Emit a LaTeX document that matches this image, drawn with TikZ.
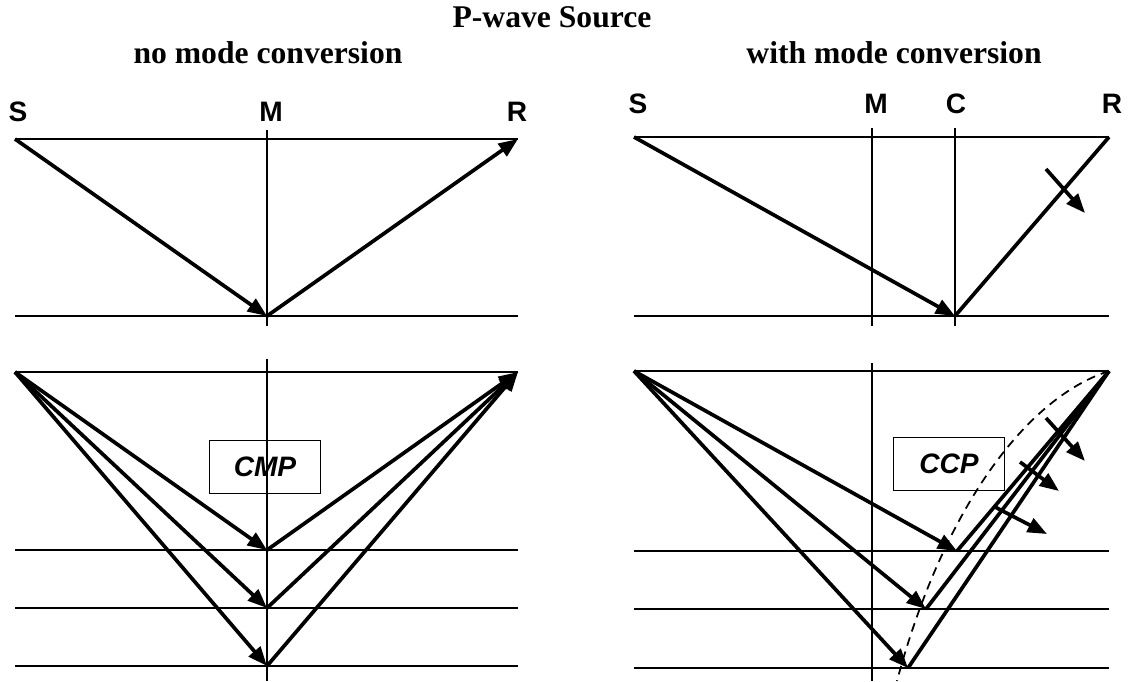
\documentclass[tikz,border=0pt]{standalone}
\usepackage{fontspec}
\setmainfont{Liberation Serif}
\setsansfont{Liberation Sans}
\usetikzlibrary{arrows.meta}
\tikzset{
  thinline/.style={line width=1pt},
  ray/.style={line width=2.1pt},
  wave/.style={ray,-{Triangle[length=11pt,width=8.5pt]}},
  ptlabel/.style={font=\fontsize{16}{18}\selectfont\sffamily\bfseries},
  heading/.style={font=\fontsize{18}{20}\selectfont\bfseries,anchor=base},
  gather/.style={draw,line width=0.9pt,minimum width=2.22cm,minimum height=1.06cm,inner sep=0pt,
    font=\fontsize{16}{18}\selectfont\sffamily\bfseries\itshape}
}
\begin{document}
\begin{tikzpicture}[x=0.02cm,y=-0.02cm]
    \useasboundingbox (0,0) rectangle (1129,681);

    % Headings
    \node[heading] (title) at (552,27) {P-wave Source};
    \node[heading] (nomode) at (268,63) {no mode conversion};
    \node[heading] (withmode) at (894,63) {with mode conversion};

    % Upper left: no mode conversion, one reflector
    \coordinate (ulS) at (15,139);
    \coordinate (ulR) at (518,139);
    \coordinate (ulM) at (267,316);
    \node[ptlabel] (ulSlab) at (18,112) {S};
    \node[ptlabel] (ulMlab) at (271,112) {M};
    \node[ptlabel] (ulRlab) at (517,112) {R};
    \draw[thinline] (ulS) -- (ulR);
    \draw[thinline] (15,316) -- (518,316);
    \draw[thinline] (267,130) -- (267,326);
    \draw[wave] (ulS) -- (ulM);
    \draw[wave] (ulM) -- (ulR);

    % Upper right: with mode conversion, one reflector
    \coordinate (urS) at (634,137);
    \coordinate (urR) at (1109,137);
    \coordinate (urC) at (955,316);
    \node[ptlabel] (urSlab) at (638,104) {S};
    \node[ptlabel] (urMlab) at (876,104) {M};
    \node[ptlabel] (urClab) at (956,104) {C};
    \node[ptlabel] (urRlab) at (1112,104) {R};
    \draw[thinline] (urS) -- (urR);
    \draw[thinline] (634,316) -- (1109,316);
    \draw[thinline] (872,128) -- (872,326);
    \draw[thinline] (955,128) -- (955,326);
    \draw[wave] (urS) -- (urC);
    \draw[ray] (urC) -- (urR);
    \coordinate (urpolA) at (1046,169);
    \coordinate (urpolB) at (1085,213);
    \draw[wave] (urpolA) -- (urpolB);

    % Lower left: common midpoint gather
    \coordinate (llS) at (15,372);
    \coordinate (llR) at (518,372);
    \draw[thinline] (llS) -- (llR);
    \draw[thinline] (267,359) -- (267,681);
    \node[gather] (cmp) at (265,467) {CMP};
    \foreach \y/\n in {550/a,608/b,666/c} {
        \draw[thinline] (15,\y) -- (518,\y);
        \coordinate (llM\n) at (267,\y);
        \draw[wave] (llS) -- (llM\n);
        \draw[wave] (llM\n) -- (llR);
    }

    % Lower right: common conversion point gather
    \coordinate (lrS) at (634,371);
    \coordinate (lrR) at (1109,371);
    \draw[thinline] (lrS) -- (lrR);
    \draw[thinline] (872,363) -- (872,681);
    \node[gather] (ccp) at (949,464) {CCP};
    \foreach \x/\y/\n in {957/551/a,926/609/b,908/668/c} {
        \draw[thinline] (634,\y) -- (1109,\y);
        \coordinate (lrC\n) at (\x,\y);
        \draw[wave] (lrS) -- (lrC\n);
        \draw[ray] (lrC\n) -- (lrR);
    }
    \draw[thinline,dash pattern=on 5pt off 3.5pt] (lrR) .. controls (1020,400) and (940,520) .. (897,681);
    \foreach \xa/\ya/\xb/\yb in {1046/418/1085/461,1020/462/1059/491,995/507/1047/534} {
        \draw[wave] (\xa,\ya) -- (\xb,\yb);
    }
\end{tikzpicture}
\end{document}
